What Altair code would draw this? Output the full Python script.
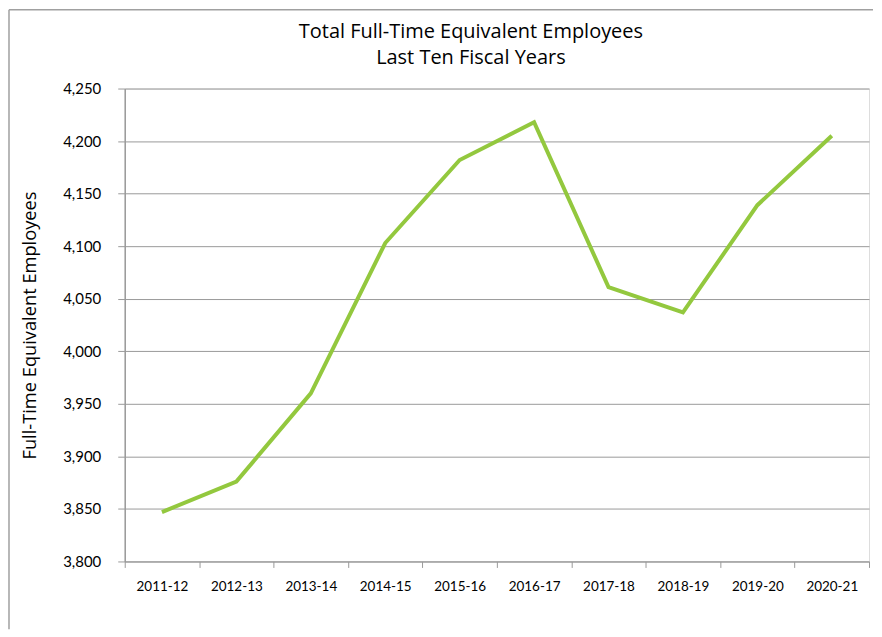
import altair as alt
import pandas as pd

years = ["2011-12", "2012-13", "2013-14", "2014-15", "2015-16",
         "2016-17", "2017-18", "2018-19", "2019-20", "2020-21"]
fte = [3847, 3876, 3960, 4103, 4182, 4218, 4061, 4037, 4139, 4205]
y_ticks = [3800, 3850, 3900, 3950, 4000, 4050, 4100, 4150, 4200, 4250]

df = pd.DataFrame({"year": years, "fte": fte})

FONT = "Lato"
TFONT = "Open Sans"
GRID = "#9a9a9a"

line = alt.Chart(df).mark_line(color="#93C83E", strokeWidth=4, strokeJoin="miter").encode(
    x=alt.X("year:N", sort=years,
            scale=alt.Scale(paddingInner=0, paddingOuter=0),
            axis=alt.Axis(title=None, labelAngle=0, tickBand="extent",
                          domainColor=GRID, tickColor=GRID, tickSize=6,
                          labelPadding=12, labelFont=FONT, labelFontSize=13.5,
                          labelColor="#000000", grid=False)),
    y=alt.Y("fte:Q", scale=alt.Scale(domain=[3800, 4250], nice=False, zero=False),
            axis=alt.Axis(values=y_ticks, format=",.0f", title="Full-Time Equivalent Employees",
                          titleFont=TFONT, titleFontSize=18.3, titleFontWeight="normal",
                          titleColor="#000000", titlePadding=23,
                          labelFont=FONT, labelFontSize=15, labelColor="#000000",
                          labelPadding=17, tickSize=7, tickColor=GRID,
                          domainColor=GRID, domainWidth=1.5,
                          grid=True, gridColor=GRID, gridWidth=1)),
)

frame = pd.DataFrame({"k": [0]})
border_left = alt.Chart(frame).mark_rule(color="#a0a0a0", strokeWidth=1.5).encode(
    x=alt.value(-116), y=alt.value(-79), y2=alt.value(542)
)
border_top = alt.Chart(frame).mark_rule(color="#a0a0a0", strokeWidth=1.5).encode(
    x=alt.value(-116), x2=alt.value(750), y=alt.value(-79)
)

chart = alt.layer(line, border_left, border_top).properties(
    width=746,
    height=474,
    padding={"left": 0, "top": 0, "right": 0, "bottom": 0},
    title=alt.TitleParams(
        text=["Total Full-Time Equivalent Employees", "Last Ten Fiscal Years"],
        font=TFONT, fontSize=20, fontWeight="normal", color="#000000",
        anchor="middle", dx=-26, offset=-59, lineHeight=26,
    ),
).configure_view(stroke=None).configure(background="#ffffff")

chart.save("out.html", embed_options={"renderer": "svg", "actions": False})
